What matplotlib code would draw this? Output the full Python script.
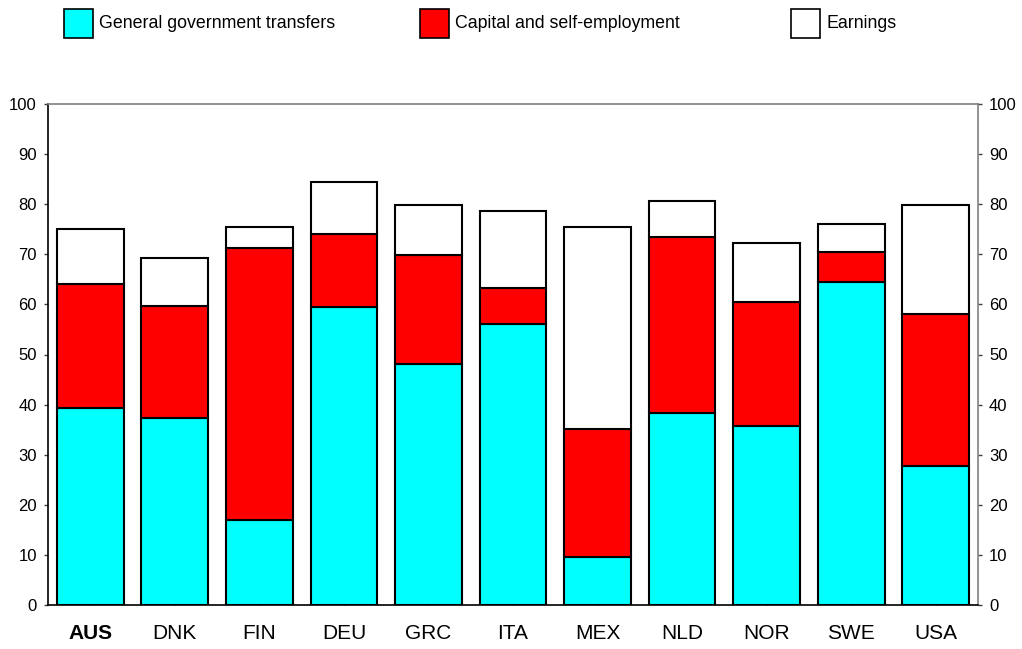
import matplotlib
matplotlib.use("Agg")
import matplotlib.pyplot as plt
from matplotlib.patches import Rectangle
import numpy as np

countries = ["AUS", "DNK", "FIN", "DEU", "GRC", "ITA", "MEX", "NLD", "NOR", "SWE", "USA"]
gov_transfers = [39.3, 37.3, 16.9, 59.4, 48.1, 56.1, 9.5, 38.4, 35.8, 64.4, 27.8]
capital_self = [24.7, 22.4, 54.3, 14.6, 21.7, 7.2, 25.6, 35.1, 24.7, 6.1, 30.2]
earnings = [11.0, 9.6, 4.3, 10.4, 10.1, 15.4, 40.4, 7.2, 11.7, 5.5, 21.8]
series_names = ["General government transfers", "Capital and self-employment", "Earnings"]
series_colors = ["#00FFFF", "#FF0000", "#FFFFFF"]
yticks = [0, 10, 20, 30, 40, 50, 60, 70, 80, 90, 100]

plt.rcParams['font.family'] = ['Liberation Sans', 'DejaVu Sans']

fig = plt.figure(figsize=(10.22, 6.49), dpi=100)
ax = fig.add_axes([48/1022, 44/649, 930/1022, 501/649])

x = np.arange(len(countries))
gov = np.array(gov_transfers)
cap = np.array(capital_self)
ear = np.array(earnings)
w = 0.79
ax.bar(x, gov, width=w, color=series_colors[0], edgecolor="black", linewidth=1.5, zorder=3)
ax.bar(x, cap, width=w, bottom=gov, color=series_colors[1], edgecolor="black", linewidth=1.5, zorder=3)
ax.bar(x, ear, width=w, bottom=gov + cap, color=series_colors[2], edgecolor="black", linewidth=1.5, zorder=3)

ax.set_xlim(-0.5, len(countries) - 0.5)
ax.set_ylim(0, 100)
ax.set_yticks(yticks)
ax.set_yticklabels([str(t) for t in yticks], fontsize=12)
ax.tick_params(axis="y", direction="out", length=3, width=1, color="#404040", pad=5,
               left=True, right=True, labelleft=True, labelright=True)
ax.set_xticks(x)
ax.set_xticklabels(countries, fontsize=15)
ax.get_xticklabels()[0].set_fontweight("bold")
ax.tick_params(axis="x", direction="in", length=3, width=1, color="#404040", pad=14)

ax.spines["left"].set_color("black")
ax.spines["bottom"].set_color("black")
ax.spines["top"].set_color("#808080")
ax.spines["right"].set_color("#808080")
for s in ax.spines.values():
    s.set_linewidth(1.2)
    s.set_zorder(4)

# Legend drawn manually
leg_x = [64, 420, 791]
for xs, name, col in zip(leg_x, series_names, series_colors):
    fig.patches.append(Rectangle((xs / 1022, 1 - 38 / 649), 29 / 1022, 29 / 649,
                                 transform=fig.transFigure, facecolor=col,
                                 edgecolor="black", linewidth=1.2))
    fig.text((xs + 35) / 1022, 1 - 23 / 649, name, fontsize=12.8, va="center", ha="left")

fig.savefig("out.png", dpi=100)
